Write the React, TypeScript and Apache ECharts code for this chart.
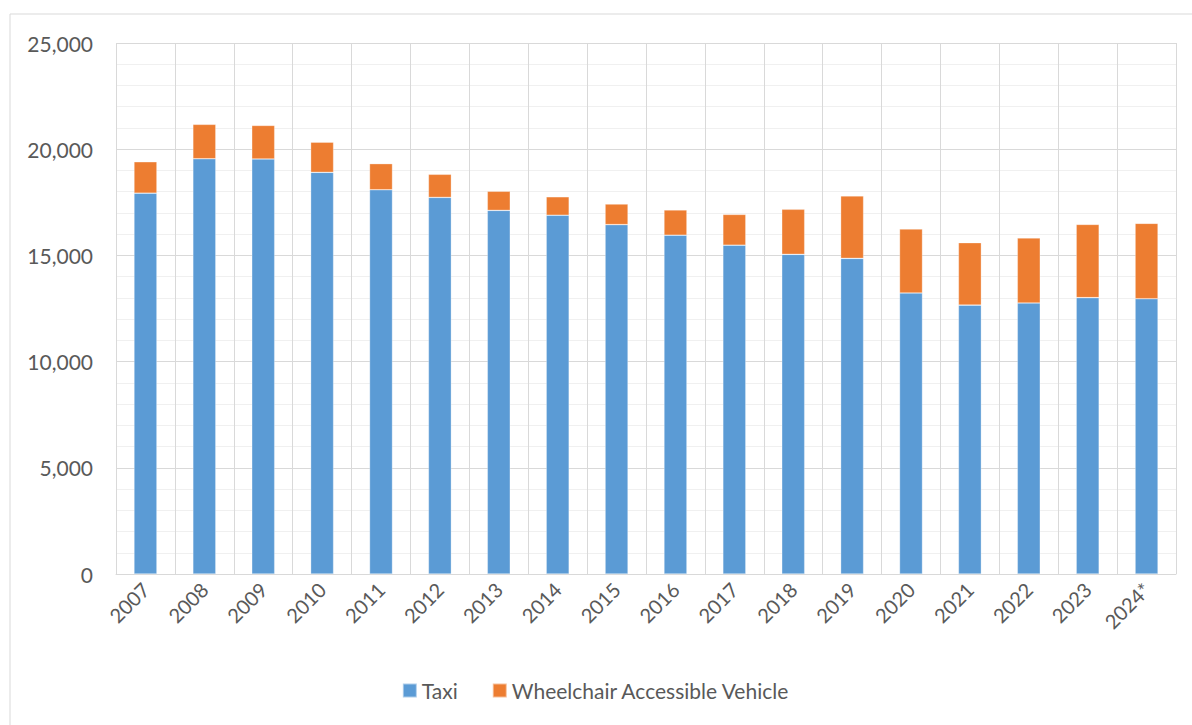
import React, { useEffect, useRef } from "react";
import * as echarts from "echarts";

const years = ["2007","2008","2009","2010","2011","2012","2013","2014","2015","2016","2017","2018","2019","2020","2021","2022","2023","2024*"];
const taxi = [17930,19550,19540,18910,18090,17730,17120,16890,16450,15950,15480,15050,14860,13230,12660,12760,13010,12960];
const wav = [1480,1620,1580,1420,1230,1090,900,870,970,1190,1450,2120,2940,3010,2940,3060,3450,3550];
const yTicks = { min: 0, max: 25000, interval: 5000 };

const FONT = "Lato, 'Noto Sans', sans-serif";
const TXT = "#595959";

export default function App() {
  const ref = useRef<HTMLDivElement>(null);
  useEffect(() => {
    const chart = echarts.init(ref.current!, null, { renderer: "svg" });
    chart.setOption({
      animation: false,
      backgroundColor: "#ffffff",
      graphic: [
        {
          type: "rect",
          shape: { x: 10, y: 14, width: 1200, height: 760 },
          style: { fill: "none", stroke: "#d9d9d9", lineWidth: 1 },
          silent: true,
        },
      ],
      grid: { left: 116, top: 43, right: 16, bottom: 151, containLabel: false },
      legend: {
        bottom: 19,
        left: "center",
        itemWidth: 14,
        itemHeight: 14,
        itemGap: 34,
        icon: "rect",
        textStyle: { fontSize: 21, color: TXT, fontFamily: FONT },
        data: ["Taxi", "Wheelchair Accessible Vehicle"],
      },
      xAxis: {
        type: "category",
        data: years,
        axisLine: { show: true, lineStyle: { color: "#d9d9d9", width: 1 } },
        axisTick: { show: false },
        splitLine: { show: true, lineStyle: { color: "#d9d9d9", width: 1 } },
        axisLabel: {
          rotate: 45,
          fontSize: 20,
          color: TXT,
          fontFamily: FONT,
          margin: 12,
          interval: 0,
        },
      },
      yAxis: {
        type: "value",
        min: yTicks.min,
        max: yTicks.max,
        interval: yTicks.interval,
        axisLine: { show: false },
        axisTick: { show: false },
        splitLine: { show: true, lineStyle: { color: "#d9d9d9", width: 1 } },
        minorTick: { show: false, splitNumber: 5 },
        minorSplitLine: { show: true, lineStyle: { color: "#f0f0f0", width: 1 } },
        axisLabel: {
          fontSize: 21,
          color: TXT,
          fontFamily: FONT,
          margin: 23,
          formatter: (v: number) => v.toLocaleString("en-US"),
        },
      },
      series: [
        {
          name: "Taxi",
          type: "bar",
          stack: "total",
          data: taxi,
          barWidth: "39%",
          itemStyle: { color: "#5B9BD5", borderColor: "rgba(255,255,255,0.5)", borderWidth: 0.6 },
        },
        {
          name: "Wheelchair Accessible Vehicle",
          type: "bar",
          stack: "total",
          data: wav,
          barWidth: "39%",
          itemStyle: { color: "#ED7D31", borderColor: "rgba(255,255,255,0.5)", borderWidth: 0.6 },
        },
      ],
    });
    return () => chart.dispose();
  }, []);
  return <div ref={ref} style={{ width: 1192, height: 725, position: "absolute", left: 0, top: 0 }} />;
}
